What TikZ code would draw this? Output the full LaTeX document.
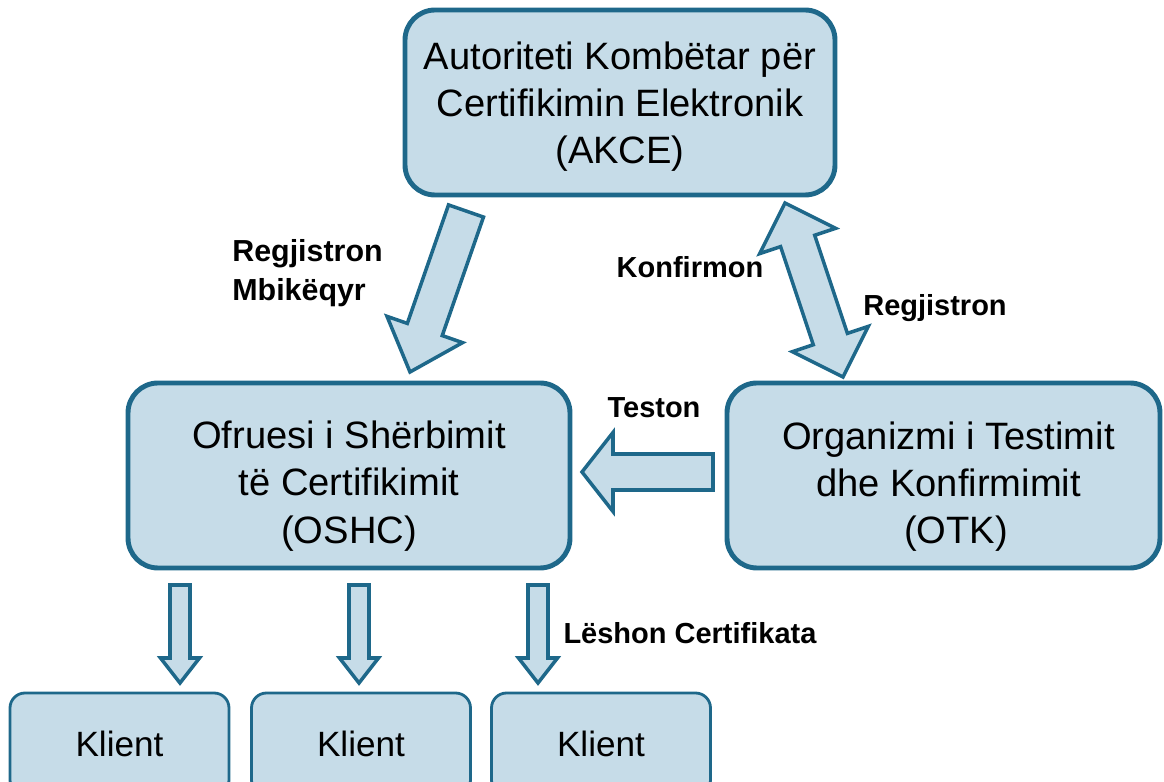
\documentclass[tikz,border=0pt]{standalone}
\usepackage{fontspec}
\setmainfont{Liberation Sans}
\usetikzlibrary{calc}
\definecolor{boxfill}{RGB}{198,220,232}
\definecolor{boxline}{RGB}{30,104,138}

% block arrow: start, tip, half shaft, half head, head length
\newcommand{\blockarrow}[5]{%
  \coordinate (hb) at ($(#2)!#5!(#1)$);
  \draw[barrow] ($(#1)!#3!90:(#2)$) -- ($(hb)!#3!90:(#2)$) -- ($(hb)!#4!90:(#2)$) -- (#2)
    -- ($(hb)!#4!-90:(#2)$) -- ($(hb)!#3!-90:(#2)$) -- ($(#1)!#3!-90:(#2)$) -- cycle;
}
% block arrow with two heads
\newcommand{\dblockarrow}[5]{%
  \coordinate (hs) at ($(#1)!#5!(#2)$);
  \coordinate (he) at ($(#2)!#5!(#1)$);
  \draw[barrow] (#1) -- ($(hs)!#4!90:(#2)$) -- ($(hs)!#3!90:(#2)$) -- ($(he)!#3!90:(#2)$)
    -- ($(he)!#4!90:(#2)$) -- (#2) -- ($(he)!#4!-90:(#2)$) -- ($(he)!#3!-90:(#2)$)
    -- ($(hs)!#3!-90:(#2)$) -- ($(hs)!#4!-90:(#2)$) -- cycle;
}
% pushes the text of a box down a little
\newcommand{\tpad}[1]{\rule{0pt}{#1}}

\begin{document}
\begin{tikzpicture}
        \tikzstyle{bigbox} = [draw=boxline, fill=boxfill, line width=2.8pt, rounded corners=0.6cm, minimum height=3.7cm, align=center, inner sep=2pt, font=\fontsize{21.7}{26.9}\selectfont]
        \tikzstyle{klbox} = [draw=boxline, fill=boxfill, line width=1.6pt, rounded corners=0.3cm, minimum width=4.38cm, minimum height=2.04cm, align=center, font=\fontsize{20}{24}\selectfont]
        \tikzstyle{lbl} = [align=left, inner sep=0pt, font=\fontsize{16.5}{22.7}\selectfont\bfseries]
        \tikzstyle{barrow} = [draw=boxline, fill=boxfill, line width=2pt, line join=miter]
        \useasboundingbox (0,0) rectangle (23.28,15.64);
        % boxes
        \node[bigbox, minimum width=8.6cm] (akce) at (12.4, 13.59) {\tpad{20.4pt}Autoriteti Kombëtar për\\Certifikimin Elektronik\\(AKCE)};
        \node[bigbox, minimum width=8.84cm] (oshc) at (6.98, 6.13) {\tpad{27.7pt}Ofruesi i Shërbimit\\të Certifikimit\\(OSHC)};
        \node[bigbox, minimum width=8.66cm] (otk) at (18.87, 6.13) {\tpad{28.2pt}\hspace*{0.2cm}Organizmi i Testimit\\\hspace*{0.2cm}dhe Konfirmimit\\\hspace*{0.5cm}(OTK)};
        \node[klbox] (kl1) at (2.39, 0.76) {Klient};
        \node[klbox] (kl2) at (7.22, 0.76) {Klient};
        \node[klbox] (kl3) at (12.02, 0.76) {Klient};
        % arrow ends
        \coordinate (regS) at (9.32, 11.42);
        \coordinate (regE) at (8.2, 8.2);
        \coordinate (konS) at (15.7, 11.58);
        \coordinate (konE) at (16.86, 8.1);
        \coordinate (tesS) at (14.26, 6.2);
        \coordinate (tesE) at (11.64, 6.2);
        \coordinate (lesS1) at (3.6, 3.94);
        \coordinate (lesE1) at (3.6, 1.98);
        \coordinate (lesS2) at (7.18, 3.94);
        \coordinate (lesE2) at (7.18, 1.98);
        \coordinate (lesS3) at (10.76, 3.94);
        \coordinate (lesE3) at (10.76, 1.98);
        % arrows
        \blockarrow{regS}{regE}{0.37cm}{0.8cm}{0.9cm}
        \dblockarrow{konS}{konE}{0.36cm}{0.8cm}{0.8cm}
        \blockarrow{tesS}{tesE}{0.36cm}{0.79cm}{0.62cm}
        \blockarrow{lesS1}{lesE1}{0.2cm}{0.39cm}{0.5cm}
        \blockarrow{lesS2}{lesE2}{0.2cm}{0.39cm}{0.5cm}
        \blockarrow{lesS3}{lesE3}{0.2cm}{0.39cm}{0.5cm}
        % labels
        \node[lbl, anchor=west, font=\fontsize{17.3}{22.5}\selectfont\bfseries] (regl) at (4.64, 10.18) {Regjistron\\Mbikëqyr};
        \node[lbl] (konl) at (13.8, 10.3) {Konfirmon};
        \node[lbl] (regr) at (18.7, 9.48) {Regjistron};
        \node[lbl] (tesl) at (13.08, 7.48) {Teston};
        \node[lbl] (lesl) at (13.8, 2.98) {Lëshon Certifikata};
\end{tikzpicture}
\end{document}
